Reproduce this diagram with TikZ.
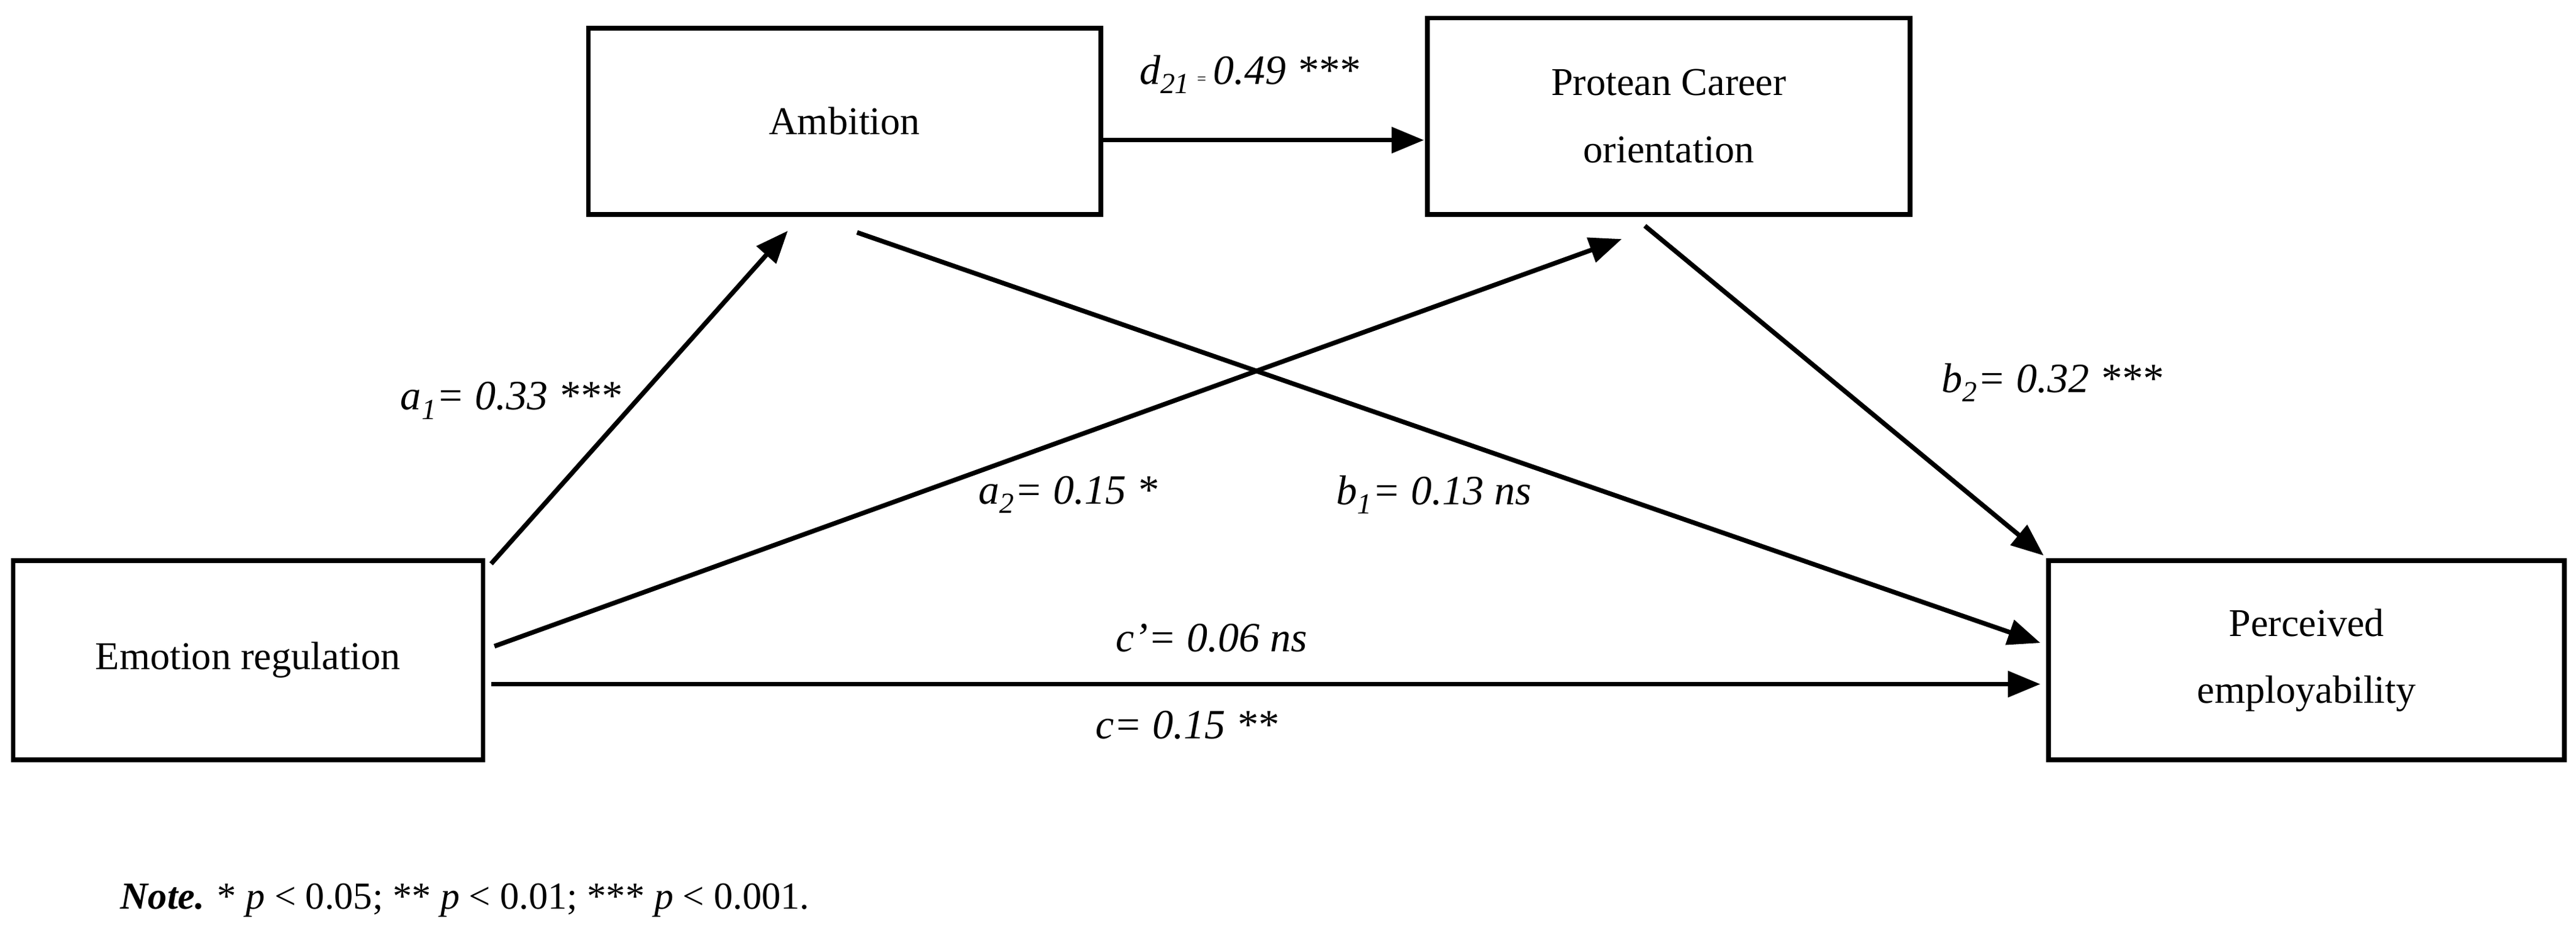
\documentclass[tikz,border=0pt]{standalone}
\usepackage{fontspec}
\setmainfont{Liberation Serif}
\usetikzlibrary{arrows.meta}
\begin{document}
\begin{tikzpicture}[x=0.5mm,y=-0.5mm,
  box/.style={draw,line width=4pt,inner sep=0pt,align=center,font=\fontsize{34}{58}\selectfont},
  arr/.style={line width=4pt,-{Triangle[length=28pt,width=22pt]}},
  lab/.style={font=\fontsize{36}{42}\selectfont\itshape,inner sep=0pt}]
\useasboundingbox (0,0) rectangle (1563,572);
\node[box,minimum width=155.5mm,minimum height=56.5mm] (amb) at (512.5,73.5) {Ambition};
\node[box,minimum width=146.5mm,minimum height=59.5mm] (pro) at (1012.5,70.5) {Protean Career\\orientation};
\node[box,minimum width=142.5mm,minimum height=60.5mm] (emo) at (150.5,400.5) {Emotion regulation};
\node[box,minimum width=156.5mm,minimum height=60.5mm] (per) at (1399.5,400.5) {Perceived\\employability};
\coordinate (a0) at (668,85); \coordinate (a1) at (864,85);
\coordinate (b0) at (298,342); \coordinate (b1) at (478,140);
\coordinate (c0) at (300,392); \coordinate (c1) at (984,145);
\coordinate (d0) at (520,141); \coordinate (d1) at (1238,390);
\coordinate (e0) at (998,137); \coordinate (e1) at (1240,337);
\coordinate (f0) at (298,415); \coordinate (f1) at (1238,415);
\draw[arr] (a0) -- (a1);
\draw[arr] (b0) -- (b1);
\draw[arr] (c0) -- (c1);
\draw[arr] (d0) -- (d1);
\draw[arr] (e0) -- (e1);
\draw[arr] (f0) -- (f1);
\node[lab] (l1) at (758,45) {d\textsubscript{21}\,{\upshape\fontsize{14}{14}\selectfont =}\,0.49 ***};
\node[lab] (l2) at (310,243) {a\textsubscript{1}= 0.33 ***};
\node[lab] (l3) at (648,300) {a\textsubscript{2}= 0.15 *};
\node[lab] (l4) at (870,300) {b\textsubscript{1}= 0.13 ns};
\node[lab] (l5) at (1245,232) {b\textsubscript{2}= 0.32 ***};
\node[lab] (l6) at (735,387) {c’= 0.06 ns};
\node[lab] (l7) at (720,440) {c= 0.15 **};
\node[anchor=west,inner sep=0pt,font=\fontsize{33}{40}\selectfont] (note) at (73,546) {\textbf{\itshape Note.} * \textit{p} < 0.05; ** \textit{p} < 0.01; *** \textit{p} < 0.001.};
\end{tikzpicture}
\end{document}
